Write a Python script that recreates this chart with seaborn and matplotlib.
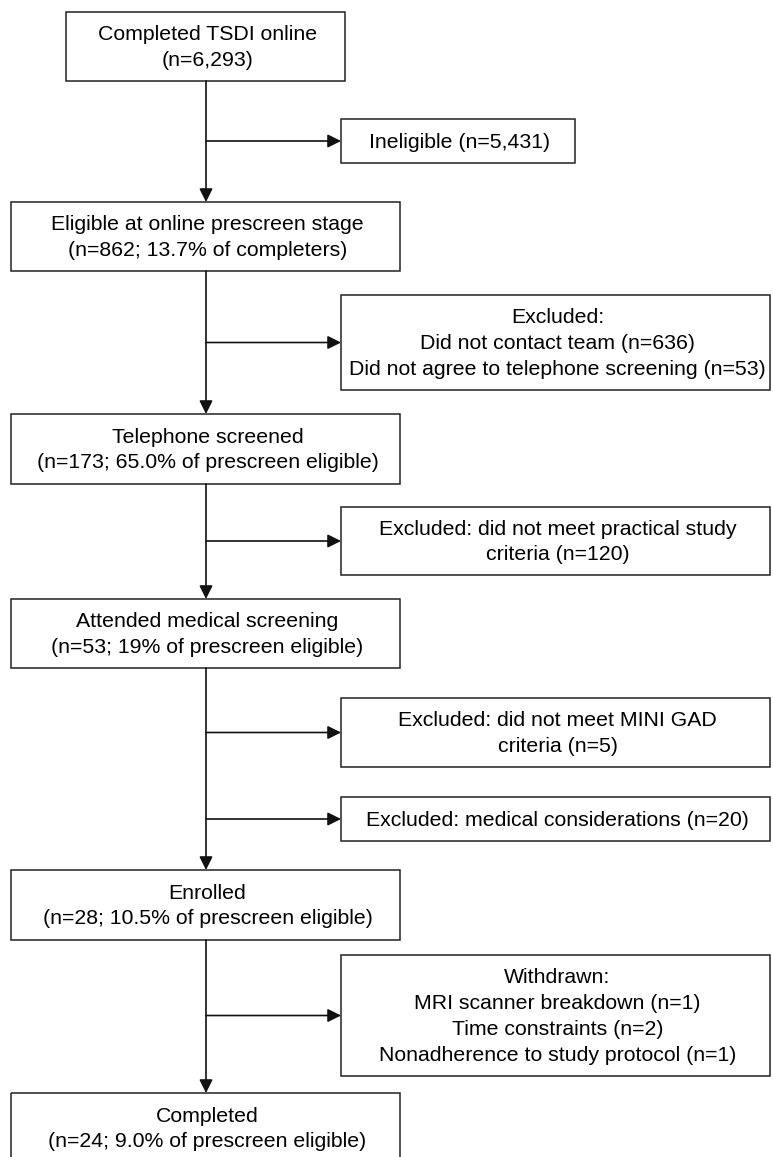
import matplotlib
matplotlib.use("Agg")
import matplotlib.pyplot as plt
import matplotlib.patches as mpatches
import seaborn as sns

sns.set_theme(style="white")
plt.rcParams['font.family'] = ['Liberation Sans', 'DejaVu Sans']

# flow stages (main column) and exclusions (side column)
main_labels = [
    "Completed TSDI online\n(n=6,293)",
    "Eligible at online prescreen stage\n(n=862; 13.7% of completers)",
    "Telephone screened\n(n=173; 65.0% of prescreen eligible)",
    "Attended medical screening\n(n=53; 19% of prescreen eligible)",
    "Enrolled\n(n=28; 10.5% of prescreen eligible)",
    "Completed\n(n=24; 9.0% of prescreen eligible)",
]
side_labels = [
    "Ineligible (n=5,431)",
    "Excluded:\nDid not contact team (n=636)\nDid not agree to telephone screening (n=53)",
    "Excluded: did not meet practical study\ncriteria (n=120)",
    "Excluded: did not meet MINI GAD\ncriteria (n=5)",
    "Excluded: medical considerations (n=20)",
    "Withdrawn:\nMRI scanner breakdown (n=1)\nTime constraints (n=2)\nNonadherence to study protocol (n=1)",
]

# layout in pixels (top, bottom, left, right)
main_boxes = [(12, 81, 66, 345), (202, 271, 11, 400), (414, 484, 11, 400),
              (599, 668, 11, 400), (870, 940, 11, 400), (1093, 1163, 11, 400)]
side_boxes = [(119, 163, 341, 575), (295, 390, 341, 770), (507, 575, 341, 770),
              (698, 767, 341, 770), (797, 841, 341, 770), (955, 1076, 341, 770)]
spine_x = 206

fig = plt.figure(figsize=(7.73, 11.57), dpi=100)
ax = fig.add_axes([0, 0, 1, 1])
ax.set_xlim(0, 773)
ax.set_ylim(1157, 0)
ax.axis("off")

fs = 15.3


def draw_box(box, text):
    top, bottom, left, right = box
    ax.add_patch(mpatches.Rectangle((left, top), right - left, bottom - top,
                                    fill=False, edgecolor="#222222", lw=1.1))
    ax.text((left + right) / 2 + 2, (top + bottom) / 2 + 1, text, ha="center", va="center",
            fontsize=fs, color="black", linespacing=1.45)


def arrow(x0, y0, x1, y1):
    ax.annotate("", xy=(x1, y1), xytext=(x0, y0),
                arrowprops=dict(arrowstyle="-|>", color="#111111", lw=1.2,
                                mutation_scale=20, shrinkA=0, shrinkB=0))


for box, text in zip(main_boxes, main_labels):
    draw_box(box, text)
for box, text in zip(side_boxes, side_labels):
    draw_box(box, text)

# vertical connectors between stages
for upper, lower in zip(main_boxes[:-1], main_boxes[1:]):
    arrow(spine_x, upper[1], spine_x, lower[0])

# horizontal branches to exclusion boxes
for box in side_boxes:
    yc = (box[0] + box[1]) / 2
    arrow(spine_x, yc, box[2], yc)

fig.savefig("out.png", dpi=100, facecolor="white")
